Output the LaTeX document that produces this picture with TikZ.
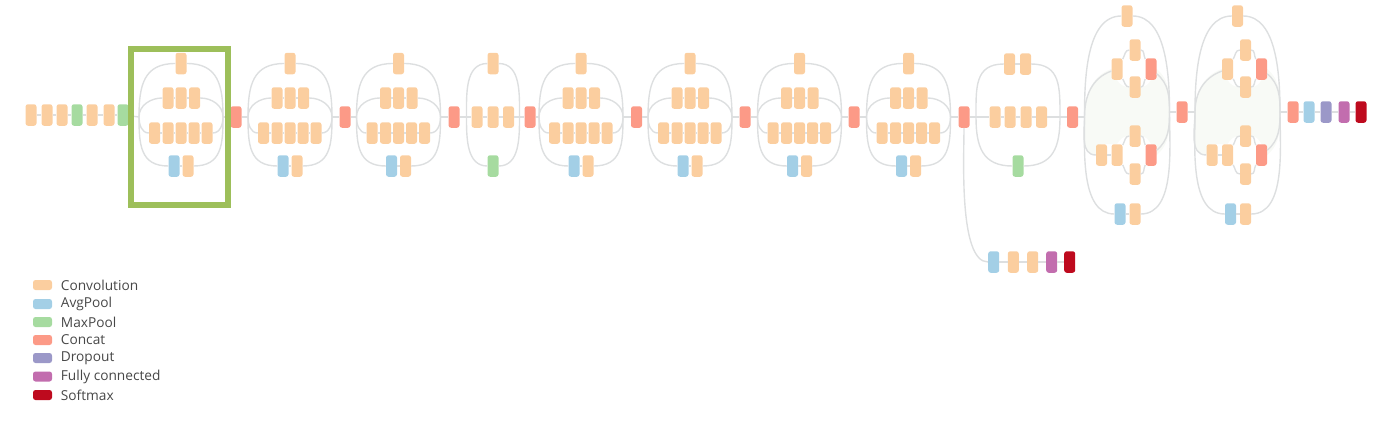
\documentclass[tikz,border=0pt]{standalone}
\usepackage{fontspec}
\setmainfont{Open Sans}
\usetikzlibrary{positioning,backgrounds}

\definecolor{convcol}{HTML}{FBCE9F}
\definecolor{avgcol}{HTML}{A3CFE6}
\definecolor{maxcol}{HTML}{A6DBA0}
\definecolor{catcol}{HTML}{FC9A87}
\definecolor{dropcol}{HTML}{9B98C8}
\definecolor{fccol}{HTML}{C26DAE}
\definecolor{softcol}{HTML}{BE0A1E}
\definecolor{linkcol}{HTML}{DDDFE0}
\definecolor{lenscol}{HTML}{F8FAF6}
\definecolor{focuscol}{HTML}{9DBF5A}

\begin{document}
\begin{tikzpicture}[
        x=1pt, y=1pt,
        block/.style={rectangle, rounded corners=2.5pt, inner sep=0pt, minimum width=11pt, minimum height=21.5pt},
        conv/.style={block, fill=convcol},
        avg/.style={block, fill=avgcol},
        maxp/.style={block, fill=maxcol},
        cat/.style={block, fill=catcol},
        drop/.style={block, fill=dropcol},
        fc/.style={block, fill=fccol},
        soft/.style={block, fill=softcol},
        swatch/.style={rectangle, rounded corners=2.5pt, inner sep=0pt, minimum width=19pt, minimum height=10pt},
        legtext/.style={inner sep=0pt, text=black!72, font=\fontsize{13.7}{15}\selectfont},
        link/.style={draw=linkcol, line width=1.4pt},
        bendlink/.style={link, looseness=1.25}
    ]
    \useasboundingbox (0,0) rectangle (1379,-423);

    % stem
    \foreach \n/\x/\k in {s1/31/conv, s2/47/conv, s3/62/conv, s4/77/maxp, s5/92/conv, s6/109/conv, s7/123/maxp}
        \node[\k] (\n) at (\x,-115) {};
    \draw[link] (s1) -- (s2) -- (s3) -- (s4) -- (s5) -- (s6) -- (s7);

    % concats between modules
    \foreach \n/\x/\y in {c1/236/117, c2/345/117, c3/454/117, c4/530/117, c5/636.5/117, c6/745/117,
                          c7/854/117, c8/964/117, c9/1072.5/117, c10/1182/112, c11/1293/112}
        \node[cat] (\n) at (\x,-\y) {};

    % modules with four rows
    \foreach \n/\cx/\p/\q in {a/181/s7/c1, b/290/c1/c2, c/398.5/c2/c3, e/581/c4/c5,
                              f/690/c5/c6, g/799.5/c6/c7, h/908.5/c7/c8} {
        \coordinate (\n in) at (\cx-42,-117);
        \coordinate (\n out) at (\cx+42,-117);
        \node[conv] (\n top) at (\cx,-63.5) {};
        \node[conv] (\n r1) at (\cx-13,-98) {};
        \node[conv] (\n r2) at (\cx,-98) {};
        \node[conv] (\n r3) at (\cx+13.5,-98) {};
        \node[conv] (\n w1) at (\cx-26.5,-133) {};
        \node[conv] (\n w2) at (\cx-13,-133) {};
        \node[conv] (\n w3) at (\cx,-133) {};
        \node[conv] (\n w4) at (\cx+13,-133) {};
        \node[conv] (\n w5) at (\cx+26,-133) {};
        \node[avg] (\n bl) at (\cx-7,-166) {};
        \node[conv] (\n br) at (\cx+7,-166) {};
        \draw[link] (\p) -- (\n in);
        \draw[link] (\n out) -- (\q);
        \draw[bendlink] (\n in) to[out=90,in=180] (\n top);
        \draw[bendlink] (\n top) to[out=0,in=90] (\n out);
        \draw[bendlink] (\n in) to[out=-90,in=180] (\n bl);
        \draw[bendlink] (\n br) to[out=0,in=-90] (\n out);
        \draw[link] (\n in) to[out=90,in=180] (\n r1);
        \draw[link] (\n r3) to[out=0,in=90] (\n out);
        \draw[link] (\n in) to[out=-90,in=180] (\n w1);
        \draw[link] (\n w5) to[out=0,in=-90] (\n out);
        \draw[link] (\n r1) -- (\n r2) -- (\n r3);
        \draw[link] (\n w1) -- (\n w2) -- (\n w3) -- (\n w4) -- (\n w5);
        \draw[link] (\n bl) -- (\n br);
    }

    % narrow module
    \coordinate (d in) at (466.5,-117);
    \coordinate (d out) at (519.5,-117);
    \node[conv] (d top) at (493,-63.5) {};
    \node[conv] (d m1) at (477,-117) {};
    \node[conv] (d m2) at (493,-117) {};
    \node[conv] (d m3) at (508.5,-117) {};
    \node[maxp] (d bot) at (493,-166) {};
    \draw[link] (c3) -- (d in) -- (d m1) -- (d m2) -- (d m3) -- (d out) -- (c4);
    \draw[link] (d in) to[out=90,in=180] (d top);
    \draw[link] (d top) to[out=0,in=90] (d out);
    \draw[link] (d in) to[out=-90,in=180] (d bot);
    \draw[link] (d bot) to[out=0,in=-90] (d out);

    % module before the wide ones
    \coordinate (i in) at (976,-117);
    \coordinate (i out) at (1060,-117);
    \node[conv] (i t1) at (1009.5,-64) {};
    \node[conv] (i t2) at (1025.5,-64) {};
    \node[conv] (i m1) at (995,-117) {};
    \node[conv] (i m2) at (1010,-117) {};
    \node[conv] (i m3) at (1026,-117) {};
    \node[conv] (i m4) at (1041.5,-117) {};
    \node[maxp] (i bot) at (1018,-166) {};
    \draw[link] (c8) -- (i in) -- (i m1) -- (i m2) -- (i m3) -- (i m4) -- (i out) -- (c9);
    \draw[link] (i t1) -- (i t2);
    \draw[bendlink] (i in) to[out=90,in=180] (i t1);
    \draw[bendlink] (i t2) to[out=0,in=90] (i out);
    \draw[bendlink] (i in) to[out=-90,in=180] (i bot);
    \draw[bendlink] (i bot) to[out=0,in=-90] (i out);

    % wide modules
    \foreach \n/\cx/\p/\q/\iny in {j/1127/c9/c10/117, k/1237.5/c10/c11/112} {
        \coordinate (\n in) at (\cx-42.5,-\iny);
        \coordinate (\n out) at (\cx+42.5,-112);
        \node[conv] (\n top) at (\cx,-16) {};
        \node[conv] (\n ut) at (\cx+8,-50) {};
        \node[conv] (\n ul) at (\cx-10,-69) {};
        \node[conv] (\n ub) at (\cx+8,-87) {};
        \node[cat] (\n ur) at (\cx+24,-69) {};
        \node[conv] (\n lt) at (\cx+8,-136) {};
        \node[conv] (\n l1) at (\cx-25.5,-155) {};
        \node[conv] (\n l2) at (\cx-10,-155) {};
        \node[conv] (\n lb) at (\cx+8,-174) {};
        \node[cat] (\n lr) at (\cx+24,-155) {};
        \node[avg] (\n bl) at (\cx-7,-214) {};
        \node[conv] (\n br) at (\cx+8,-214) {};
        \begin{scope}[on background layer]
            \fill[lenscol] (\n in) to[out=90,in=200] (\n ul.west) -- (\n ul.south)
                to[out=-60,in=180] (\n ub.west) -- (\n ub.east) to[out=0,in=-120] (\n ur.south)
                -- (\n ur.east) to[out=-40,in=90] (\n out) to[out=-90,in=40] (\n lr.east)
                -- (\n lr.north) to[out=120,in=0] (\n lt.east) -- (\n lt.west)
                to[out=180,in=60] (\n l2.north) -- (\n l1.north) -- (\n l1.west)
                to[out=180,in=-90] (\n in) -- cycle;
        \end{scope}
        \draw[link] (\p) -- (\n in);
        \draw[link] (\n out) -- (\q);
        \draw[link, looseness=.85] (\n in) to[out=90,in=180] (\n top);
        \draw[link, looseness=.85] (\n top) to[out=0,in=90] (\n out);
        \draw[link, looseness=.85] (\n in) to[out=-90,in=180] (\n bl);
        \draw[link, looseness=.85] (\n br) to[out=0,in=-90] (\n out);
        \draw[link] (\n bl) -- (\n br);
        \draw[link] (\n in) to[out=90,in=200] (\n ul);
        \draw[link] (\n ur) to[out=-40,in=90] (\n out);
        \draw[link] (\n in) to[out=-90,in=180] (\n l1);
        \draw[link] (\n lr) to[out=40,in=-90] (\n out);
        \draw[link] (\n l1) -- (\n l2);
        \draw[link] (\n ul) to[out=60,in=180] (\n ut);
        \draw[link] (\n ul) to[out=-60,in=180] (\n ub);
        \draw[link] (\n ut) to[out=0,in=120] (\n ur);
        \draw[link] (\n ub) to[out=0,in=-120] (\n ur);
        \draw[link] (\n l2) to[out=60,in=180] (\n lt);
        \draw[link] (\n l2) to[out=-60,in=180] (\n lb);
        \draw[link] (\n lt) to[out=0,in=120] (\n lr);
        \draw[link] (\n lb) to[out=0,in=-120] (\n lr);
    }

    % output tail
    \node[avg] (v1) at (1309,-112) {};
    \node[drop] (v2) at (1326,-112) {};
    \node[fc] (v3) at (1344,-112) {};
    \node[soft] (v4) at (1361,-112) {};
    \draw[link] (c11) -- (v1) -- (v2) -- (v3) -- (v4);

    % side branch
    \node[avg] (x1) at (993.7,-262) {};
    \node[conv] (x2) at (1013.3,-262) {};
    \node[conv] (x3) at (1032.7,-262) {};
    \node[fc] (x4) at (1051.7,-262) {};
    \node[soft] (x5) at (1069.7,-262) {};
    \draw[link, looseness=.55] (c8) to[out=-90,in=180] (x1);
    \draw[link] (x1) -- (x2) -- (x3) -- (x4) -- (x5);

    % highlight
    \node[draw=focuscol, line width=6pt, inner sep=0pt, minimum width=97pt, minimum height=156pt] (focus) at (179.5,-127) {};

    % legend
    \foreach \n/\y/\col/\txt in {lconv/285/convcol/Convolution, lavg/304/avgcol/AvgPool, lmax/322/maxcol/MaxPool,
                                 lcat/340/catcol/Concat, ldrop/358/dropcol/Dropout,
                                 lfc/376.5/fccol/Fully connected, lsoft/395/softcol/Softmax} {
        \node[swatch, fill=\col] (\n) at (42.5,-\y) {};
        \node[legtext, right=8.5pt of \n] (\n text) {\txt};
    }
\end{tikzpicture}
\end{document}
